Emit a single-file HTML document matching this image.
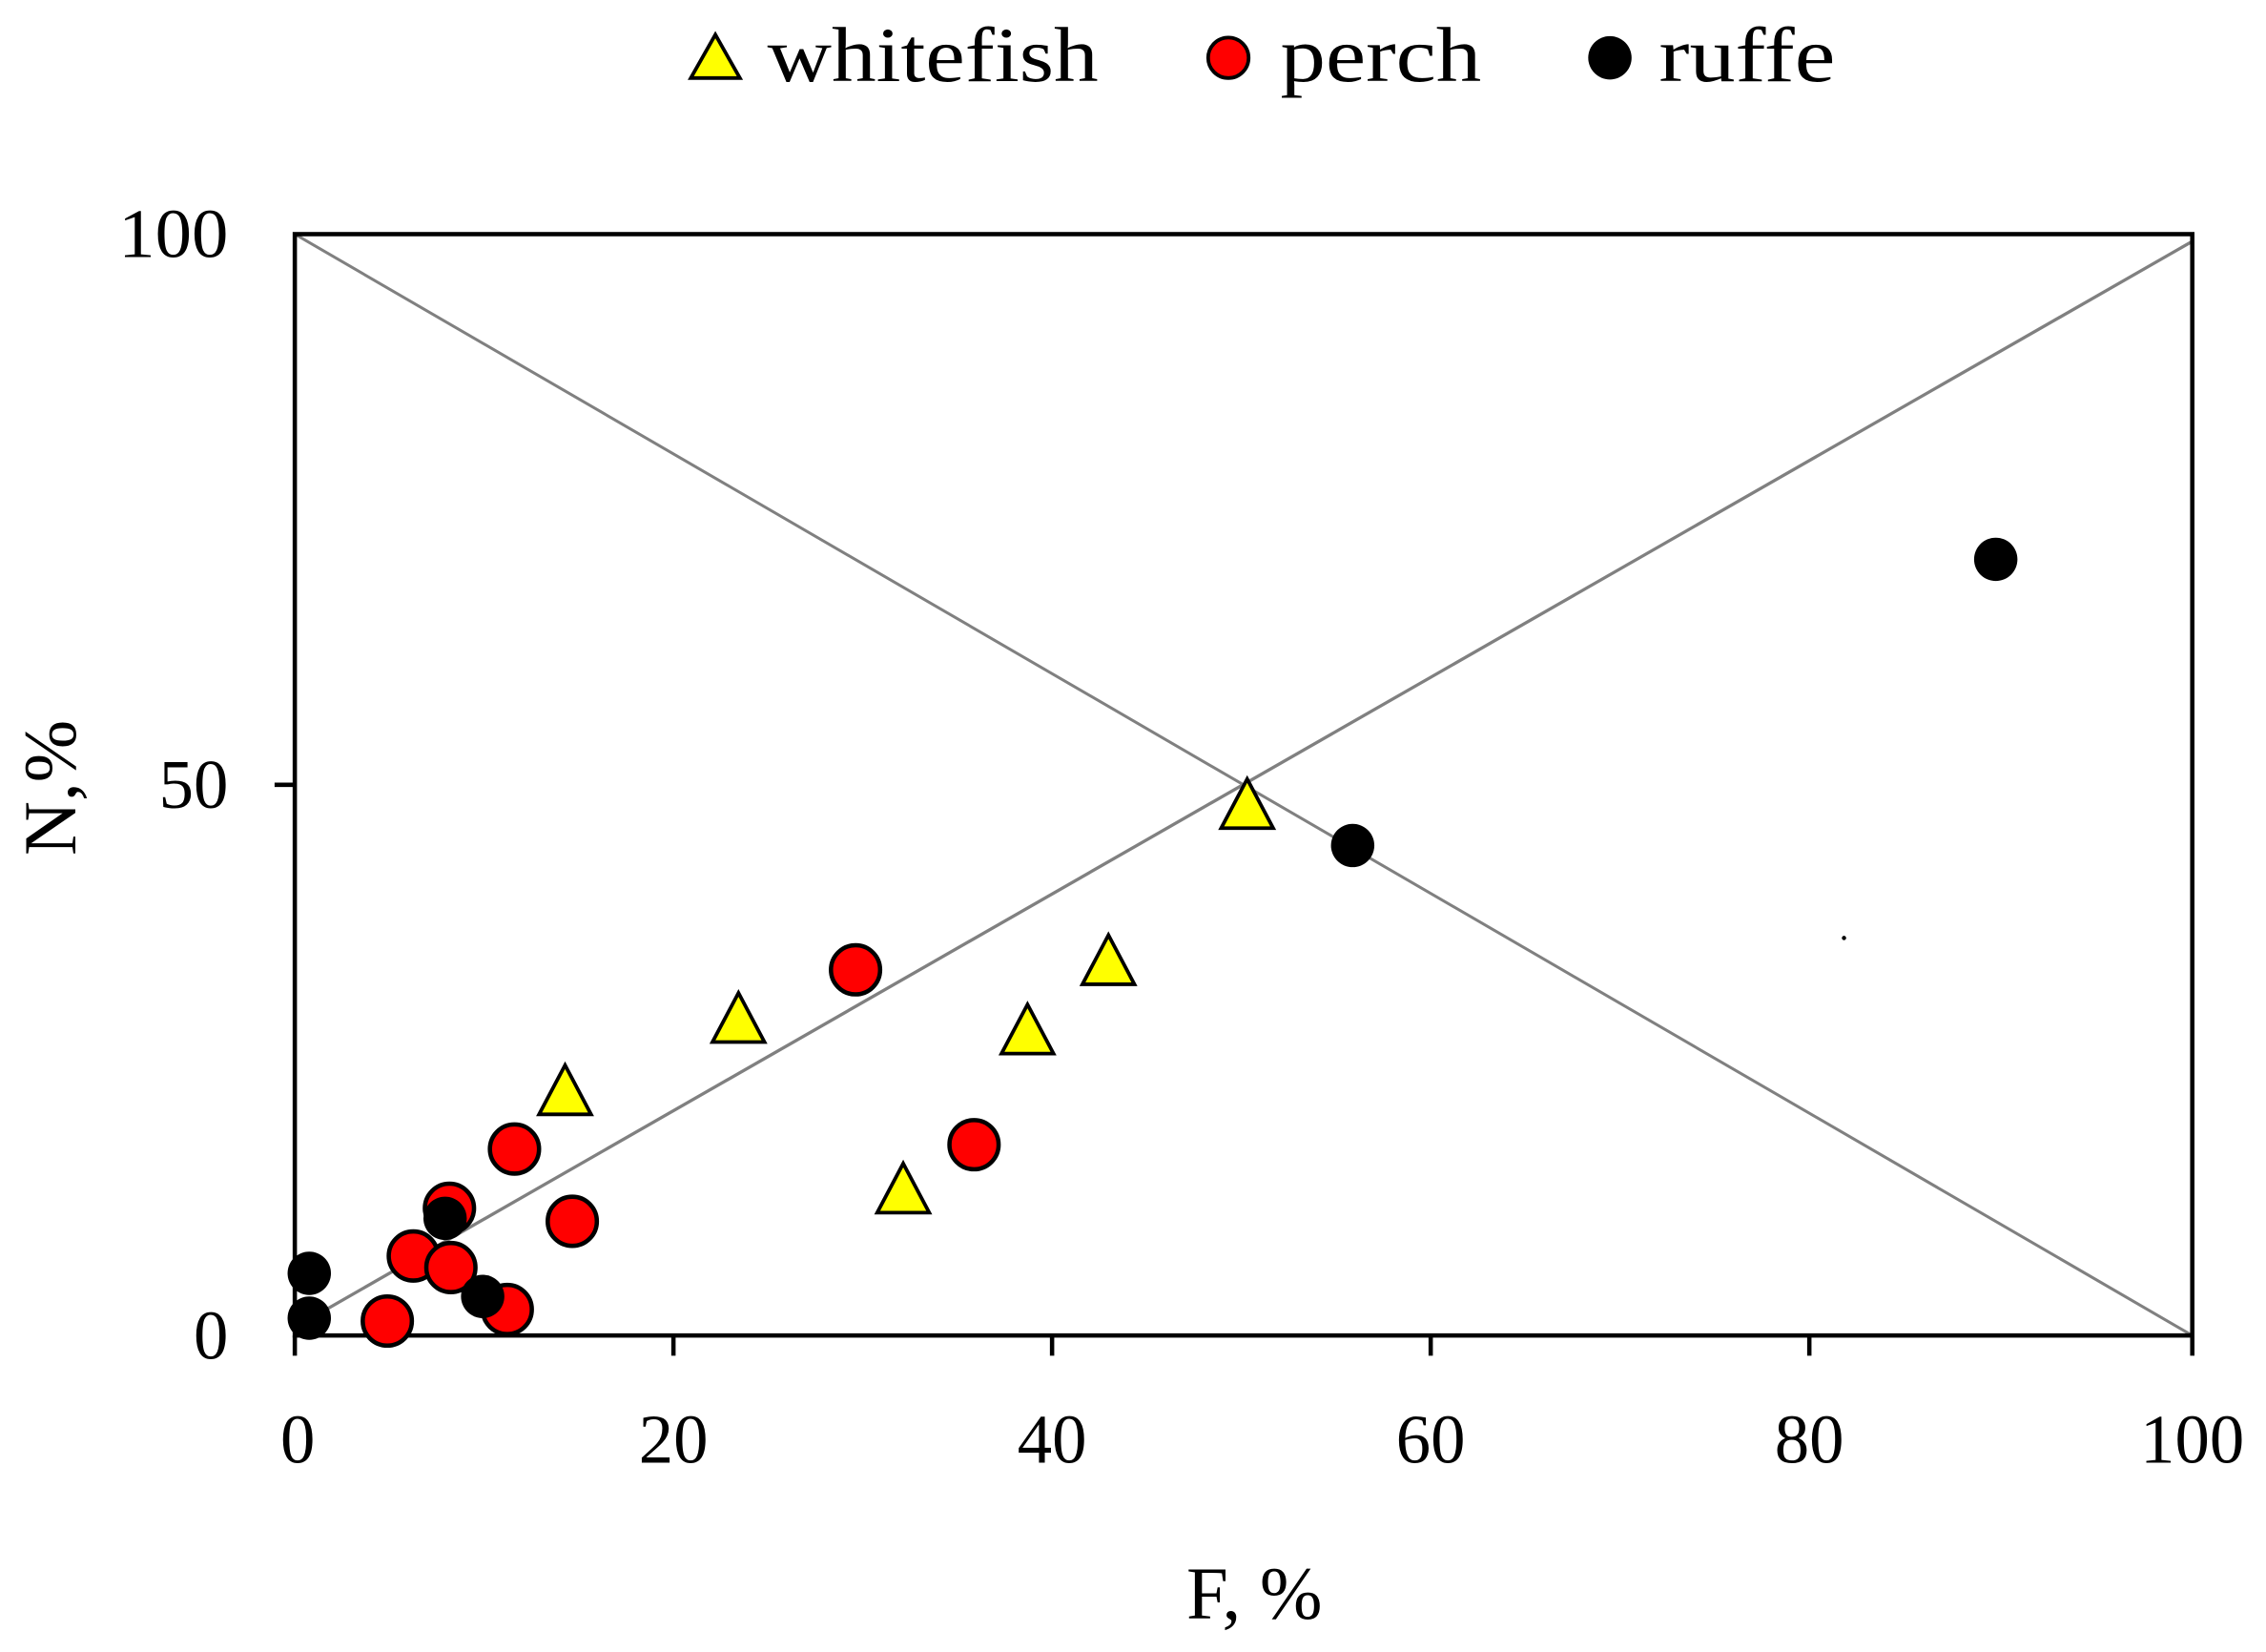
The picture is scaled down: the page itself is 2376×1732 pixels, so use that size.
<!DOCTYPE html>
<html><head><style>html,body{margin:0;padding:0;background:#fff}svg{display:block}</style></head>
<body>
<svg width="2376" height="1732" viewBox="0 0 1568 1143" preserveAspectRatio="none" xmlns="http://www.w3.org/2000/svg" font-family="Liberation Serif, serif">
<rect x="0" y="0" width="1568" height="1143" fill="#fff"/>
<!-- legend -->
<polygon points="495,24 512,54 478,54" fill="#ffff00" stroke="#000" stroke-width="2.5"/>
<text x="531" y="56" font-size="54" textLength="229" lengthAdjust="spacingAndGlyphs">whitefish</text>
<circle cx="850" cy="40" r="14" fill="#ff0000" stroke="#000" stroke-width="2.5"/>
<text x="886" y="56" font-size="54" textLength="139" lengthAdjust="spacingAndGlyphs">perch</text>
<circle cx="1114" cy="40" r="15" fill="#000"/>
<text x="1148" y="56" font-size="54" textLength="122" lengthAdjust="spacingAndGlyphs">ruffe</text>
<!-- lines -->
<line x1="204" y1="162" x2="1517" y2="924" stroke="#808080" stroke-width="2"/>
<line x1="210" y1="915" x2="1517" y2="167" stroke="#808080" stroke-width="2.2"/>
<!-- frame -->
<rect x="204" y="162" width="1313" height="762" fill="none" stroke="#000" stroke-width="3"/>
<line x1="190" y1="543" x2="204" y2="543" stroke="#000" stroke-width="3"/>
<g stroke="#000" stroke-width="3">
<line x1="204" y1="924" x2="204" y2="938"/><line x1="466" y1="924" x2="466" y2="938"/><line x1="728" y1="924" x2="728" y2="938"/><line x1="990" y1="924" x2="990" y2="938"/><line x1="1252" y1="924" x2="1252" y2="938"/><line x1="1517" y1="924" x2="1517" y2="938"/>
</g>
<g font-size="48" text-anchor="end">
<text x="158" y="178" textLength="76" lengthAdjust="spacingAndGlyphs">100</text><text x="158" y="559">50</text><text x="158" y="940">0</text>
</g>
<g font-size="48" text-anchor="middle">
<text x="206" y="1012">0</text><text x="466" y="1012">20</text><text x="728" y="1012">40</text><text x="990" y="1012">60</text><text x="1252" y="1012">80</text><text x="1517" y="1012">100</text>
</g>
<text x="868" y="1120" font-size="52" text-anchor="middle">F, %</text>
<text transform="translate(52,545) rotate(-90)" font-size="52" text-anchor="middle">N,%</text>
<circle cx="1276" cy="649" r="1.5" fill="#000"/>
<!-- perch -->
<g fill="#ff0000" stroke="#000" stroke-width="3">
<circle cx="268" cy="914" r="17"/><circle cx="286" cy="869" r="17"/><circle cx="311" cy="836" r="17"/><circle cx="312" cy="877" r="17"/><circle cx="351" cy="906" r="17"/><circle cx="356" cy="795" r="17"/><circle cx="396" cy="845" r="17"/><circle cx="592" cy="671" r="17"/><circle cx="674" cy="792" r="17"/>
</g>
<!-- ruffe -->
<g fill="#000">
<circle cx="214" cy="881" r="15"/><circle cx="214" cy="912" r="15"/><circle cx="308" cy="843" r="15"/><circle cx="334" cy="897" r="15"/><circle cx="936" cy="585" r="15"/><circle cx="1381" cy="387" r="15"/>
</g>
<!-- whitefish -->
<g fill="#ffff00" stroke="#000" stroke-width="2.5">
<polygon points="391,737 409,771 373,771"/><polygon points="511,687 529,721 493,721"/><polygon points="625,805 643,839 607,839"/><polygon points="711,695 729,729 693,729"/><polygon points="767,647 785,681 749,681"/><polygon points="863,539 881,573 845,573"/>
</g>
</svg>
</body></html>
